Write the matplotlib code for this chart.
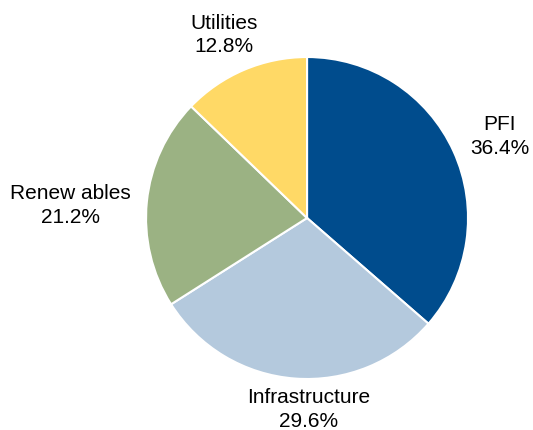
import numpy as np
import matplotlib.pyplot as plt

plt.rcParams['font.family'] = ['Liberation Sans', 'DejaVu Sans']

# Portfolio split by sector (%)
sectors = ['PFI', 'Infrastructure', 'Renew ables', 'Utilities']
shares = [36.4, 29.6, 21.2, 12.8]
colors = ['#004C8D', '#B4C9DD', '#9BB283', '#FFD966']

# Label placement: radial distance (pie radii) and angular nudge (deg) from wedge middle
label_dist = [1.30, 1.19, 1.47, 1.25]
label_nudge = [-1.5, 4.9, 2.7, 1.4]

fig = plt.figure(figsize=(5.33, 4.30), dpi=100)
ax = fig.add_axes([0.2740, 0.1186, 0.6041, 0.7488])

wedges, _ = ax.pie(shares, colors=colors, startangle=90, counterclock=False,
                   radius=1.0, wedgeprops=dict(edgecolor='white', linewidth=1.5))

for w, name, val, d, nudge in zip(wedges, sectors, shares, label_dist, label_nudge):
    mid = np.deg2rad((w.theta1 + w.theta2) / 2 + nudge)
    ax.text(d * np.cos(mid), d * np.sin(mid), f'{name}\n{val:.1f}%',
            ha='center', va='center', fontsize=15, color='#000000',
            linespacing=1.3)

ax.set_xlim(-1, 1)
ax.set_ylim(-1, 1)
ax.set_aspect('equal')
ax.axis('off')

fig.savefig('out.png', dpi=100, facecolor='white')
